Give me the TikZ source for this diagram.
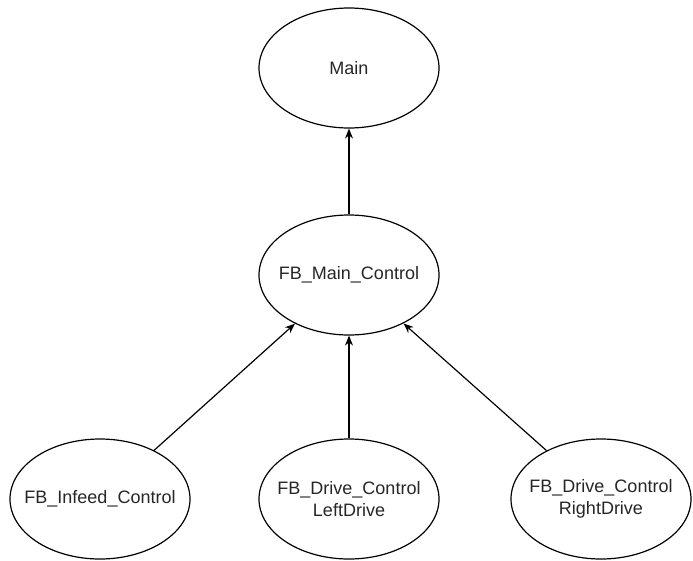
\documentclass[tikz,border=0pt]{standalone}
\usepackage{fontspec}
\setmainfont{Liberation Sans}
\usetikzlibrary{shapes.geometric, arrows.meta}
\tikzset{
  fbnode/.style={draw, ellipse, line width=1.2pt, minimum width=180pt,
    minimum height=120pt, inner sep=0pt},
  fbtext/.style={font=\fontsize{18}{22}\selectfont, text=black!85,
    align=center, inner sep=0pt}
}
\begin{document}
\begin{tikzpicture}[x=1pt, y=-1pt, line width=1.2pt,
  >={Stealth[length=10pt,width=8pt]}]
\useasboundingbox (0,0) rectangle (693,560);

\node[fbnode, label={[fbtext]center:Main}] (main) at (349,68) {};
\node[fbnode, label={[fbtext]center:FB\_Main\_Control}] (mainctl) at (349,275) {};

\node[fbnode, label={[fbtext]center:FB\_Infeed\_Control}] (infeed) at (100,499) {};
\node[fbnode, label={[fbtext]center:FB\_Drive\_Control\\LeftDrive}] (leftdrv) at (349,499) {};
\node[fbnode, label={[fbtext]center:FB\_Drive\_Control\\RightDrive}] (rightdrv) at (601,499) {};

\path [->] (mainctl) edge (main);
\path [->] (infeed) edge (mainctl)
           (leftdrv) edge (mainctl)
           (rightdrv) edge (mainctl)
           ;
\end{tikzpicture}
\end{document}
